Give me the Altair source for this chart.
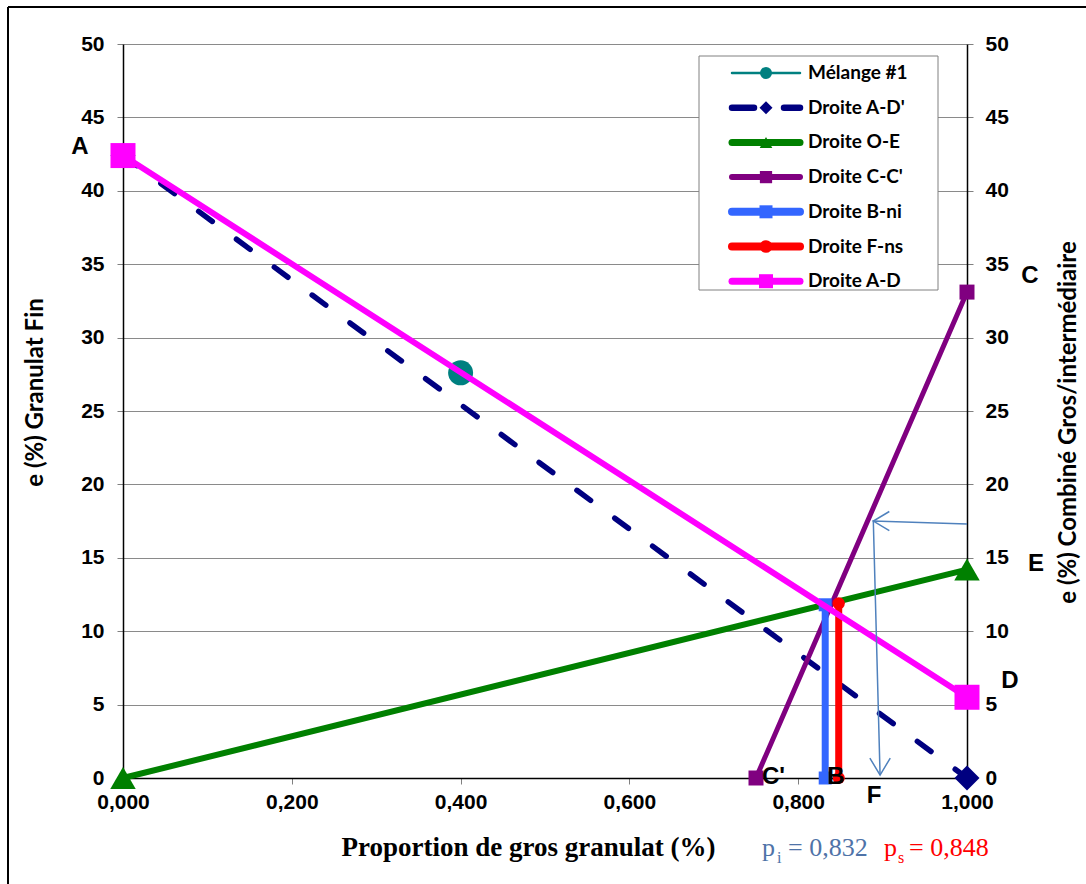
import altair as alt
import pandas as pd

# ---- series values: x = proportion de gros granulat, y = e (%) ----
melange_x = [0.400]
melange_y = [27.6]

ad_prime_x = [0.0, 1.0]
ad_prime_y = [42.4, 0.0]

oe_x = [0.0, 1.0]
oe_y = [0.0, 14.2]

cc_x = [0.750, 1.0]
cc_y = [0.0, 33.1]

p_i = 0.832
p_s = 0.848
bni_y = [0.0, 11.8]
fns_y = [0.0, 11.9]

ad_x = [0.0, 1.0]
ad_y = [42.4, 5.5]

# guide arrow: from the right axis, across, then down to F
arrow_x = [1.0, 0.889, 0.897]
arrow_y = [17.3, 17.5, 0.2]

series_names = ["Mélange #1", "Droite A-D'", "Droite O-E", "Droite C-C'",
                "Droite B-ni", "Droite F-ns", "Droite A-D"]
x_ticks = [0.0, 0.2, 0.4, 0.6, 0.8, 1.0]
y_ticks = list(range(0, 51, 5))

# ---- layout (pixels) ----
LEFT, TOP, W, H = 123, 44, 844, 734
CANVAS_W, CANVAS_H = 1086, 884

STYLE = {
    "Mélange #1": dict(color="#008080", width=2.5, shape="circle", size=625, lsize=144),
    "Droite A-D'": dict(color="#000080", width=5.5, shape="diamond", size=625, lsize=169, dash=[17, 30]),
    "Droite O-E": dict(color="#008000", width=6, shape="triangle-up", size=650, lsize=160),
    "Droite C-C'": dict(color="#800080", width=5, shape="square", size=225, lsize=150),
    "Droite B-ni": dict(color="#3366FF", width=7, shape="square", size=169, lsize=169),
    "Droite F-ns": dict(color="#FF0000", width=7, shape="circle", size=150, lsize=160),
    "Droite A-D": dict(color="#FF00FF", width=6, shape="square", size=625, lsize=196),
}

BOLD_SANS = "Liberation Sans"
TITLE_SANS = "Lato"
TICK_SIZE = 21

xscale = alt.Scale(domain=[0, 1], nice=False, zero=False)
yscale = alt.Scale(domain=[0, 50], nice=False)

x_axis = alt.Axis(
    values=x_ticks,
    labelExpr="replace(format(datum.value, '.3f'), '.', ',')",
    title="Proportion de gros granulat (%)",
    titleFont="Liberation Serif", titleFontSize=27, titleFontWeight="bold",
    titleColor="black", titleX=405, titleY=77, titleAlign="center",
    titleBaseline="alphabetic",
    labelFont=BOLD_SANS, labelFontSize=TICK_SIZE, labelFontWeight="bold",
    labelColor="black", labelPadding=7, labelFlush=False,
    tickSize=6, tickColor="#808080", domainColor="black", domainWidth=1.5,
    grid=False,
)

y_axis = alt.Axis(
    values=y_ticks, format="d",
    title="e (%) Granulat Fin",
    titleFont=TITLE_SANS, titleFontSize=24, titleFontWeight="bold",
    titleColor="black", titleAngle=270, titleX=-88, titleY=348,
    titleAlign="center", titleBaseline="middle",
    labelFont=BOLD_SANS, labelFontSize=TICK_SIZE, labelFontWeight="bold",
    labelColor="black", labelPadding=13,
    tickSize=6, tickColor="#808080", domainColor="black", domainWidth=1.5,
    grid=True, gridColor="#8a8a8a", gridWidth=1,
)

y_axis_right = alt.Axis(
    orient="right", values=y_ticks, format="d",
    title="e (%) Combiné Gros/intermédiaire",
    titleFont=TITLE_SANS, titleFontSize=24, titleFontWeight="bold",
    titleColor="black", titleAngle=270, titleX=101, titleY=378,
    titleAlign="center", titleBaseline="middle",
    labelFont=BOLD_SANS, labelFontSize=TICK_SIZE, labelFontWeight="bold",
    labelColor="black", labelPadding=12,
    tickSize=6, tickColor="#808080", domainColor="black", domainWidth=1.5,
    grid=False,
)


def xy(axis_y=y_axis):
    return dict(
        x=alt.X("x:Q", scale=xscale, axis=x_axis),
        y=alt.Y("y:Q", scale=yscale, axis=axis_y),
    )


def series(name, xs, ys, with_line=True):
    st = STYLE[name]
    df = pd.DataFrame({"x": xs, "y": ys})
    layers = []
    if with_line:
        line_kw = dict(color=st["color"], strokeWidth=st["width"], strokeCap="round")
        if "dash" in st:
            line_kw["strokeDash"] = st["dash"]
        layers.append(alt.Chart(df).mark_line(**line_kw).encode(**xy()))
    layers.append(
        alt.Chart(df).mark_point(shape=st["shape"], size=st["size"], filled=True,
                                 color=st["color"], opacity=1).encode(**xy())
    )
    return layers


data_layers = []
data_layers += series("Mélange #1", melange_x, melange_y, with_line=False)
data_layers += series("Droite A-D'", ad_prime_x, ad_prime_y)
data_layers += series("Droite O-E", oe_x, oe_y)
data_layers += series("Droite C-C'", cc_x, cc_y)
data_layers += series("Droite B-ni", [p_i, p_i], bni_y)
data_layers += series("Droite F-ns", [p_s, p_s], fns_y)
data_layers += series("Droite A-D", ad_x, ad_y)

# guide arrow
ARROW = "#4F81BD"
arrow_df = pd.DataFrame({"x": arrow_x, "y": arrow_y, "i": range(len(arrow_x))})
arrow_line = alt.Chart(arrow_df).mark_line(color=ARROW, strokeWidth=1.5).encode(
    order="i:Q", **xy())
head_left = alt.Chart(arrow_df.iloc[[1]]).mark_point(
    shape="M 1 -0.6 L 0 0 L 1 0.6", size=1024, filled=False,
    color=ARROW, strokeWidth=1.5, opacity=1).encode(**xy())
head_down = alt.Chart(arrow_df.iloc[[2]]).mark_point(
    shape="M -0.6 -1 L 0 0 L 0.6 -1", size=1156, filled=False,
    color=ARROW, strokeWidth=1.5, opacity=1).encode(**xy())

# point letters (pixel positions on the page)
letters = pd.DataFrame({
    "t": ["A", "C", "E", "D", "C'", "B", "F"],
    "px": [80, 1030, 1036, 1010, 762, 836, 874],
    "py": [147, 276, 564, 681, 777, 777, 796],
    "al": ["center", "center", "center", "center", "left", "center", "center"],
})
letters["px"] = letters["px"] - LEFT
letters["py"] = letters["py"] - TOP


def letter_layer(align):
    d = letters[letters["al"] == align]
    return alt.Chart(d).mark_text(
        font=BOLD_SANS, fontSize=24, fontWeight="bold", color="black",
        align=align, baseline="middle").encode(
        x=alt.X("px:Q", scale=None, axis=None),
        y=alt.Y("py:Q", scale=None, axis=None),
        text="t:N")


one = pd.DataFrame({"k": [0]})


def px_text(text, x, y, size, color, font="Liberation Serif", weight="normal",
            align="left", baseline="alphabetic"):
    return alt.Chart(one).mark_text(
        text=text, font=font, fontSize=size, fontWeight=weight, color=color,
        align=align, baseline=baseline).encode(
        x=alt.value(x - LEFT), y=alt.value(y - TOP))


fmt = lambda v: f"{v:.3f}".replace(".", ",")
PI_COLOR = "#4F73A8"
p_texts = [
    px_text("p", 762, 856, 26, PI_COLOR),
    px_text("i", 777, 863, 16, PI_COLOR),
    px_text("= " + fmt(p_i), 788, 856, 26, PI_COLOR),
    px_text("p", 884, 856, 26, "#FF0000"),
    px_text("s", 898, 863, 16, "#FF0000"),
    px_text("= " + fmt(p_s), 909, 856, 26, "#FF0000"),
]

# manual legend
LEG_X0, LEG_X1, LEG_Y0, LEG_Y1 = 699, 938, 56, 290
ROW0, ROW_STEP = 73, 34.7
SYM_X0, SYM_X1, SYM_XC, TXT_X = 730, 802, 766, 808

legend_layers = [
    alt.Chart(one).mark_rect(fill="white", stroke="#808080", strokeWidth=1).encode(
        x=alt.value(LEG_X0 - LEFT), x2=alt.value(LEG_X1 - LEFT),
        y=alt.value(LEG_Y0 - TOP), y2=alt.value(LEG_Y1 - TOP))
]
for i, name in enumerate(series_names):
    st = STYLE[name]
    ry = ROW0 + i * ROW_STEP - TOP
    rule_kw = dict(color=st["color"], strokeWidth=st["width"] + (0 if i == 0 else 1),
                   strokeCap="round")
    if "dash" in st:
        rule_kw["strokeDash"] = [22, 30]
    legend_layers.append(
        alt.Chart(one).mark_rule(**rule_kw).encode(
            x=alt.value(SYM_X0 + 2 - LEFT), x2=alt.value(SYM_X1 - 2 - LEFT),
            y=alt.value(ry)))
    legend_layers.append(
        alt.Chart(one).mark_point(shape=st["shape"], size=st["lsize"], filled=True,
                                  color=st["color"], opacity=1).encode(
            x=alt.value(SYM_XC - LEFT), y=alt.value(ry)))

legend_df = pd.DataFrame({"name": series_names})
legend_df["ly"] = [ROW0 + i * ROW_STEP - TOP for i in range(len(series_names))]
legend_layers.append(
    alt.Chart(legend_df).mark_text(
        font=TITLE_SANS, fontSize=19, fontWeight="bold", color="black",
        align="left", baseline="middle").encode(
        x=alt.value(TXT_X - LEFT),
        y=alt.Y("ly:Q", scale=None, axis=None),
        text="name:N"))

# chart-area frame (top and left edges)
frame = [
    alt.Chart(one).mark_rule(color="black", strokeWidth=2).encode(
        x=alt.value(8 - LEFT), x2=alt.value(CANVAS_W - LEFT), y=alt.value(7 - TOP)),
    alt.Chart(one).mark_rule(color="black", strokeWidth=2).encode(
        x=alt.value(8 - LEFT), y=alt.value(7 - TOP), y2=alt.value(CANVAS_H - TOP)),
]

main = alt.layer(
    *data_layers, arrow_line, head_left, head_down,
    letter_layer("center"), letter_layer("left"),
    *p_texts, *legend_layers, *frame,
)

# invisible layer carrying the right-hand axis
right_df = pd.DataFrame({"x": cc_x, "y": cc_y})
right = alt.Chart(right_df).mark_point(opacity=0).encode(**xy(y_axis_right))

chart = alt.layer(main, right).resolve_scale(y="independent").properties(
    width=W, height=H,
    autosize=alt.AutoSizeParams(type="none"),
    padding={"left": LEFT, "top": TOP, "right": CANVAS_W - LEFT - W,
             "bottom": CANVAS_H - TOP - H},
    background="white",
).configure_view(stroke=None)

chart.save("out.html", embed_options={"renderer": "svg", "actions": False})
